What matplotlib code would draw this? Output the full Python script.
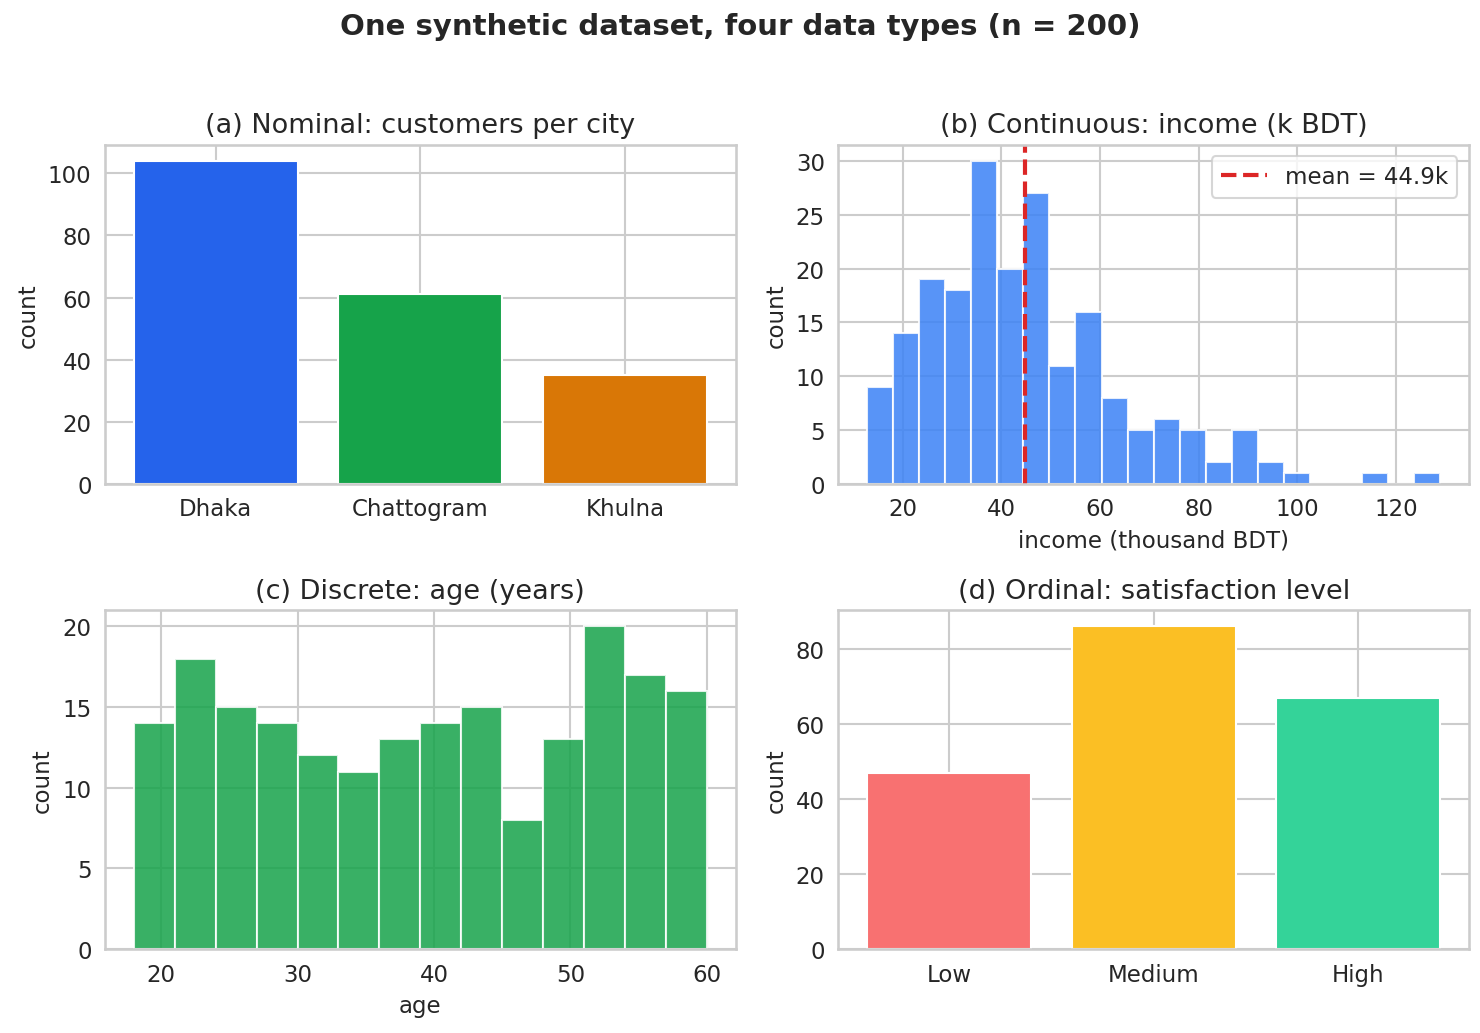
import matplotlib
matplotlib.use('Agg')
import matplotlib.pyplot as plt
import seaborn as sns
import numpy as np

sns.set_theme(style='whitegrid')
plt.rcParams['font.family'] = ['DejaVu Sans']

cities = ['Dhaka', 'Chattogram', 'Khulna']
city_counts = [104, 61, 35]
city_colors = ['#2563eb', '#16a34a', '#d97706']

income_counts = [9, 14, 19, 18, 30, 20, 27, 11, 16, 8, 5, 6, 5, 2, 5, 2, 1, 0, 0, 1, 0, 1]
income_lo, income_hi = 12.8, 129.0  # k BDT, outer bin edges
income_mean = 44.9

age_counts = [14, 18, 15, 14, 12, 11, 13, 14, 15, 8, 13, 20, 17, 16]
age_lo, age_hi = 18, 60

levels = ['Low', 'Medium', 'High']
level_counts = [47, 86, 67]
level_colors = ['#f87171', '#fbbf24', '#34d399']

fig, axes = plt.subplots(2, 2, figsize=(9.8667, 6.8933), dpi=150)

ax = axes[0, 0]
ax.bar(cities, city_counts, color=city_colors, width=0.8)
ax.set_title('(a) Nominal: customers per city', fontsize=13)
ax.set_ylabel('count', fontsize=11)

ax = axes[0, 1]
edges = np.linspace(income_lo, income_hi, len(income_counts) + 1)
ax.bar(edges[:-1], income_counts, width=np.diff(edges), align='edge',
       color='#3b82f6', alpha=0.85, edgecolor='white', linewidth=1)
ax.axvline(income_mean, color='#dc2626', linestyle='--', linewidth=2,
           label='mean = %.1fk' % income_mean)
ax.set_title('(b) Continuous: income (k BDT)', fontsize=13)
ax.set_xlabel('income (thousand BDT)', fontsize=11)
ax.set_ylabel('count', fontsize=11)
ax.legend(loc='upper right')

ax = axes[1, 0]
edges = np.linspace(age_lo, age_hi, len(age_counts) + 1)
ax.bar(edges[:-1], age_counts, width=np.diff(edges), align='edge',
       color='#16a34a', alpha=0.85, edgecolor='white', linewidth=1)
ax.set_title('(c) Discrete: age (years)', fontsize=13)
ax.set_xlabel('age', fontsize=11)
ax.set_ylabel('count', fontsize=11)

ax = axes[1, 1]
ax.bar(levels, level_counts, color=level_colors, width=0.8)
ax.set_title('(d) Ordinal: satisfaction level', fontsize=13)
ax.set_ylabel('count', fontsize=11)

pad = plt.rcParams['xtick.major.pad'] - 3
for ax in axes.flat:
    ax.tick_params(axis='both', pad=pad)

fig.suptitle('One synthetic dataset, four data types (n = 200)', fontsize=14,
             fontweight='bold', y=0.987)
fig.subplots_adjust(left=0.071, right=0.9925, top=0.859, bottom=0.081,
                    wspace=0.163, hspace=0.372)
fig.savefig('out.png', dpi=150)
